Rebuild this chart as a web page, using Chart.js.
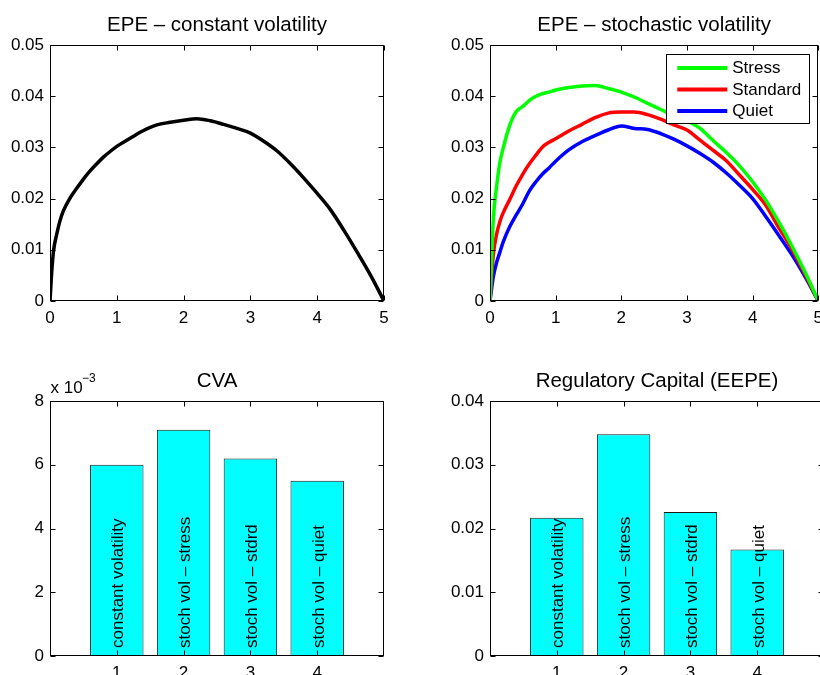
<!DOCTYPE html>
<html><head><meta charset="utf-8">
<script src="https://cdn.jsdelivr.net/npm/chart.js@4"></script>
<style>
html,body{margin:0;padding:0;background:#fff;overflow:hidden;width:820px;height:675px;position:relative;}
canvas{position:absolute;display:block;}
</style></head><body>
<canvas id="c1" width="410" height="335" style="left:0;top:0"></canvas>
<canvas id="c2" width="420" height="335" style="left:410px;top:0"></canvas>
<canvas id="c3" width="410" height="350" style="left:0;top:340px"></canvas>
<canvas id="c4" width="420" height="350" style="left:410px;top:340px"></canvas>
<script>
// ---- data ----
const timeGrid    = [0,0.02,0.05,0.1,0.15,0.2,0.3,0.4,0.5,0.6,0.7,0.8,0.9,1.0,1.2,1.4,1.6,1.8,2.0,2.2,2.4,2.6,2.8,3.0,3.2,3.4,3.6,3.8,4.0,4.2,4.4,4.6,4.8,5.0];
const epeConstant = [0,0.0045,0.0095,0.0130,0.0157,0.0176,0.0201,0.0220,0.0238,0.0254,0.0268,0.0281,0.0292,0.0302,0.0318,0.0333,0.0344,0.0349,0.0353,0.0356,0.0352,0.0345,0.0337,0.0328,0.0312,0.0293,0.0268,0.0240,0.0210,0.0178,0.0138,0.0095,0.0050,0];
const epeStress   = [0,0.0060,0.0158,0.0223,0.0270,0.0298,0.0343,0.0370,0.0380,0.0392,0.0400,0.0405,0.0408,0.0412,0.0417,0.0420,0.0421,0.0415,0.0408,0.0398,0.0386,0.0374,0.0362,0.0352,0.0337,0.0313,0.0290,0.0264,0.0233,0.0197,0.0154,0.0107,0.0056,0];
const epeStandard = [0,0.0038,0.0090,0.0130,0.0155,0.0172,0.0198,0.0225,0.0248,0.0268,0.0285,0.0301,0.0310,0.0317,0.0332,0.0345,0.0358,0.0367,0.0369,0.0369,0.0364,0.0355,0.0344,0.0334,0.0314,0.0294,0.0274,0.0246,0.0218,0.0187,0.0143,0.0101,0.0052,0];
const epeQuiet    = [0,0.0020,0.0047,0.0075,0.0095,0.0115,0.0145,0.0168,0.0190,0.0215,0.0233,0.0248,0.0260,0.0273,0.0295,0.0311,0.0323,0.0334,0.0342,0.0337,0.0335,0.0327,0.0316,0.0303,0.0288,0.0271,0.0250,0.0226,0.0200,0.0165,0.0128,0.0090,0.0047,0];
const seriesNames = ['Stress','Standard','Quiet'];
const barPositions = [1,2,3,4];
const barLabels   = ['constant volatility','stoch vol \u2013 stress','stoch vol \u2013 stdrd','stoch vol \u2013 quiet'];
const cvaValues   = [0.0060,0.0071,0.0062,0.0055];
const eepeValues  = [0.0217,0.0348,0.0226,0.0167];
const titles      = ['EPE \u2013 constant volatility','EPE \u2013 stochastic volatility','CVA','Regulatory Capital (EEPE)'];

// ---- helpers ----
const FONT = '"Liberation Sans", Arial, Helvetica, sans-serif';
Chart.defaults.font.family = FONT;
Chart.defaults.color = '#000';

function makeFrame(cfg){
  return {
    id:'frame',
    afterDatasetsDraw(chart){
      const ctx = chart.ctx, a = chart.chartArea;
      const xs = chart.scales.x, ys = chart.scales.y;
      ctx.save();
      if (cfg.barLabels){
        ctx.fillStyle = '#000';
        ctx.font = '17px ' + FONT;
        ctx.textAlign = 'left';
        ctx.textBaseline = 'middle';
        cfg.barLabels.forEach((lab,i)=>{
          const px = xs.getPixelForValue(barPositions[i]) + 2;
          const py = ys.getPixelForValue(0) - 8;
          ctx.save(); ctx.translate(px, py); ctx.rotate(-Math.PI/2);
          ctx.fillText(lab, 0, 0); ctx.restore();
        });
      }
      ctx.strokeStyle = '#000'; ctx.lineWidth = 1;
      const L = Math.round(a.left)+0.5, R = Math.round(a.right)-0.5, T = Math.round(a.top)+0.5, B = Math.round(a.bottom)-0.5;
      ctx.strokeRect(L, T, R-L, B-T);
      const tk = 5;
      ctx.beginPath();
      xs.ticks.forEach(t=>{
        const p = Math.round(xs.getPixelForValue(t.value))+0.5;
        ctx.moveTo(p,B); ctx.lineTo(p,B-tk);
        ctx.moveTo(p,T); ctx.lineTo(p,T+tk);
      });
      ys.ticks.forEach(t=>{
        const p = Math.round(ys.getPixelForValue(t.value))+0.5;
        ctx.moveTo(L,p); ctx.lineTo(L+tk,p);
        ctx.moveTo(R,p); ctx.lineTo(R-tk,p);
      });
      ctx.stroke();
      ctx.fillStyle = '#000';
      ctx.font = '20.5px ' + FONT;
      ctx.textAlign = 'center'; ctx.textBaseline = 'alphabetic';
      ctx.fillText(cfg.title, (a.left+a.right)/2, a.top - 14.5);
      if (cfg.exponent){
        ctx.textAlign = 'left';
        ctx.font = '17px ' + FONT;
        ctx.fillText('x 10', a.left + 0.5, a.top - 8);
        ctx.font = '12px ' + FONT;
        ctx.fillText('\u22123', a.left + 32, a.top - 19);
      }
      if (cfg.legend){
        const bl = a.right - 152, bt = a.top + 9, bw = 143, bh = 69;
        ctx.fillStyle = '#fff';
        ctx.fillRect(bl, bt, bw, bh);
        ctx.strokeStyle = '#000'; ctx.lineWidth = 1;
        ctx.strokeRect(Math.round(bl)+0.5, Math.round(bt)+0.5, bw, bh);
        ctx.font = '17px ' + FONT;
        ctx.textAlign = 'left'; ctx.textBaseline = 'middle';
        cfg.legend.forEach((it,i)=>{
          const y = bt + 14 + i*21.5;
          ctx.strokeStyle = it.color; ctx.lineWidth = 4;
          ctx.beginPath(); ctx.moveTo(bl+11, y); ctx.lineTo(bl+61, y); ctx.stroke();
          ctx.fillStyle = '#000';
          ctx.fillText(it.label, bl+66, y+0.5);
        });
      }
      ctx.restore();
    }
  };
}

function baseOptions(box, yMax, yStep, yFmt, xTicksFixed){
  return {
    responsive:false, animation:false, devicePixelRatio:1,
    layout:{padding:{left:0, right:box.padR, top:box.padT, bottom:box.padB}},
    plugins:{legend:{display:false}, title:{display:false}, tooltip:{enabled:false}},
    scales:{
      x:{type:'linear', min:0, max:5, offset:false,
         grid:{display:false, drawTicks:false}, border:{display:false},
         ticks:{stepSize:1, padding:7, font:{size:17}, color:'#000', maxRotation:0, autoSkip:false,
                callback:v=>String(v)},
         afterBuildTicks: xTicksFixed ? (s=>{ s.ticks = xTicksFixed.map(v=>({value:v})); }) : undefined,
         afterFit:s=>{ s.height = 29; }},
      y:{type:'linear', min:0, max:yMax,
         grid:{display:false, drawTicks:false}, border:{display:false},
         ticks:{stepSize:yStep, padding:6, font:{size:17}, color:'#000', callback:yFmt},
         afterFit:s=>{ s.width = box.yW; }}
    }
  };
}

const fmt2 = v => (Math.abs(v) < 1e-12 ? '0' : String(+v.toFixed(2)));
const fmtE3 = v => String(Math.round(v*1000));
const pts = ys => timeGrid.map((t,i)=>({x:t, y:ys[i]}));
const lineDs = (ys,color,label) => ({label, data:pts(ys), borderColor:color, borderWidth:3.5, pointRadius:0, fill:false,
  cubicInterpolationMode:'monotone', borderJoinStyle:'round', borderCapStyle:'round'});

new Chart(document.getElementById('c1'), {
  type:'line',
  data:{datasets:[lineDs(epeConstant,'#000000','constant')]},
  options: baseOptions({yW:50, padR:26, padT:45, padB:5}, 0.05, 0.01, fmt2),
  plugins:[makeFrame({title:titles[0]})]
});

new Chart(document.getElementById('c2'), {
  type:'line',
  data:{datasets:[
    lineDs(epeStress,'#00ff00',seriesNames[0]),
    lineDs(epeStandard,'#ff0000',seriesNames[1]),
    lineDs(epeQuiet,'#0000ff',seriesNames[2])
  ]},
  options: baseOptions({yW:80, padR:6, padT:45, padB:5}, 0.05, 0.01, fmt2),
  plugins:[makeFrame({title:titles[1], legend:[
    {label:seriesNames[0], color:'#00ff00'},
    {label:seriesNames[1], color:'#ff0000'},
    {label:seriesNames[2], color:'#0000ff'}]})]
});

function barDs(vals){
  return {data: barPositions.map((p,i)=>({x:p, y:vals[i]})), backgroundColor:'#00ffff', borderColor:'#1a1a1a', borderWidth:1,
          categoryPercentage:0.8, barPercentage:1, borderSkipped:false};
}

new Chart(document.getElementById('c3'), {
  type:'bar',
  data:{datasets:[barDs(cvaValues)]},
  options: baseOptions({yW:50, padR:26, padT:61, padB:5}, 0.008, 0.002, fmtE3, barPositions),
  plugins:[makeFrame({title:titles[2], exponent:true, barLabels:barLabels})]
});

new Chart(document.getElementById('c4'), {
  type:'bar',
  data:{datasets:[barDs(eepeValues)]},
  options: baseOptions({yW:80, padR:6, padT:61, padB:5}, 0.04, 0.01, fmt2, barPositions),
  plugins:[makeFrame({title:titles[3], barLabels:barLabels})]
});
</script>
</body></html>
